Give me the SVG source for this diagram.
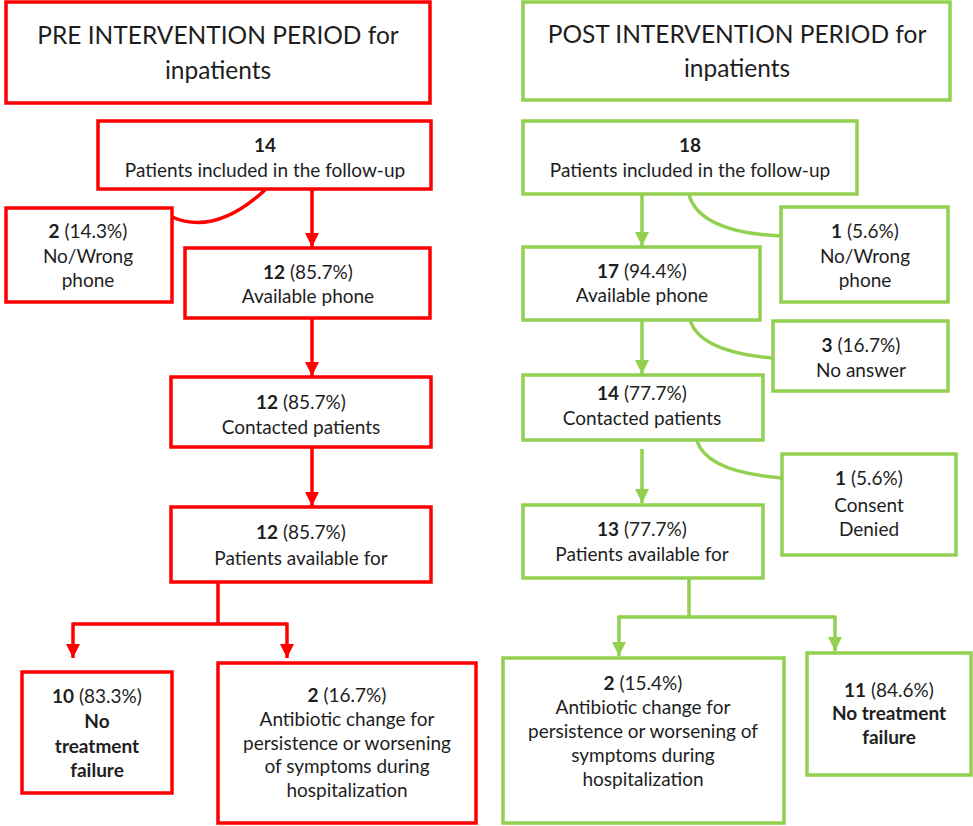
<svg xmlns="http://www.w3.org/2000/svg" width="973" height="826" viewBox="0 0 973 826">
  <style>
    .pre { fill: #fff; stroke: #ff0000; stroke-width: 3.5; }
    .post { fill: #fff; stroke: #92d050; stroke-width: 3.5; }
    .lpre { fill: none; stroke: #ff0000; stroke-width: 3.5; }
    .lpost { fill: none; stroke: #92d050; stroke-width: 3.5; }
    text { font-family: Lato, "Liberation Sans", sans-serif; font-size: 19px; fill: #1e1e1e; text-anchor: middle; }
    .title { font-size: 24.5px; }
    .b { font-weight: bold; }
  </style>
  <defs>
    <marker id="arrRed" viewBox="0 0 10 10" refX="10" refY="5" markerWidth="4" markerHeight="4" markerUnits="strokeWidth" orient="auto">
      <path d="M0,0 L10,5 L0,10 Z" fill="#ff0000"/>
    </marker>
    <marker id="arrGreen" viewBox="0 0 10 10" refX="10" refY="5" markerWidth="4" markerHeight="4" markerUnits="strokeWidth" orient="auto">
      <path d="M0,0 L10,5 L0,10 Z" fill="#92d050"/>
    </marker>
    <clipPath id="clipInc"><rect x="98" y="121" width="333" height="58"/></clipPath>
  </defs>

  <!-- connectors -->
  <g id="connectors">
    <!-- pre intervention -->
    <path class="lpre" d="M265,190 Q215,236 172,217"/>
    <line class="lpre" x1="312" y1="189" x2="312" y2="247" marker-end="url(#arrRed)"/>
    <line class="lpre" x1="312" y1="318" x2="312" y2="376" marker-end="url(#arrRed)"/>
    <line class="lpre" x1="312" y1="447" x2="312" y2="506" marker-end="url(#arrRed)"/>
    <polyline class="lpre" points="218,582 218,624 73,624"/>
    <line class="lpre" x1="218" y1="624" x2="287" y2="624"/>
    <line class="lpre" x1="73" y1="622.5" x2="73" y2="658" marker-end="url(#arrRed)"/>
    <line class="lpre" x1="287" y1="622.5" x2="287" y2="658" marker-end="url(#arrRed)"/>
    <!-- post intervention -->
    <line class="lpost" x1="642" y1="194" x2="642" y2="246" marker-end="url(#arrGreen)"/>
    <path class="lpost" d="M689,195 Q700,232 780,236"/>
    <line class="lpost" x1="642" y1="320" x2="642" y2="374" marker-end="url(#arrGreen)"/>
    <path class="lpost" d="M690,320 Q700,352 773,358"/>
    <line class="lpost" x1="642" y1="449" x2="642" y2="503" marker-end="url(#arrGreen)"/>
    <path class="lpost" d="M697,441 Q707,472 782,478"/>
    <polyline class="lpost" points="689,578 689,617 619,617"/>
    <line class="lpost" x1="689" y1="617" x2="835" y2="617"/>
    <line class="lpost" x1="619" y1="615.5" x2="619" y2="656" marker-end="url(#arrGreen)"/>
    <line class="lpost" x1="835" y1="615.5" x2="835" y2="651" marker-end="url(#arrGreen)"/>
  </g>

  <!-- pre intervention column -->
  <g id="pre-title">
    <rect class="pre" x="6" y="2" width="424" height="101"/>
    <text class="title" x="218" y="44">PRE INTERVENTION PERIOD for</text>
    <text class="title" x="218" y="79">inpatients</text>
  </g>
  <g id="pre-included">
    <rect class="pre" x="98" y="121" width="333" height="68"/>
    <text x="265" y="152" class="b">14</text>
    <text x="265" y="177" clip-path="url(#clipInc)">Patients included in the follow-up</text>
  </g>
  <g id="pre-nophone">
    <rect class="pre" x="6" y="208" width="166" height="94"/>
    <text x="88" y="238"><tspan class="b">2</tspan> (14.3%)</text>
    <text x="88" y="263">No/Wrong</text>
    <text x="88" y="287">phone</text>
  </g>
  <g id="pre-phone">
    <rect class="pre" x="185" y="248" width="245" height="70"/>
    <text x="308" y="279"><tspan class="b">12</tspan> (85.7%)</text>
    <text x="308" y="303">Available phone</text>
  </g>
  <g id="pre-contacted">
    <rect class="pre" x="171" y="377" width="260" height="70"/>
    <text x="301" y="409"><tspan class="b">12</tspan> (85.7%)</text>
    <text x="301" y="434">Contacted patients</text>
  </g>
  <g id="pre-available">
    <rect class="pre" x="171" y="507" width="260" height="75"/>
    <text x="301" y="539"><tspan class="b">12</tspan> (85.7%)</text>
    <text x="301" y="565">Patients available for</text>
  </g>
  <g id="pre-nofailure">
    <rect class="pre" x="22" y="672" width="150" height="121"/>
    <text x="97" y="703"><tspan class="b">10</tspan> (83.3%)</text>
    <text x="97" y="728" class="b">No</text>
    <text x="97" y="753" class="b">treatment</text>
    <text x="97" y="777" class="b">failure</text>
  </g>
  <g id="pre-change">
    <rect class="pre" x="218" y="663" width="258" height="160"/>
    <text x="347" y="702"><tspan class="b">2</tspan> (16.7%)</text>
    <text x="347" y="726">Antibiotic change for</text>
    <text x="347" y="750">persistence or worsening</text>
    <text x="347" y="773">of symptoms during</text>
    <text x="347" y="797">hospitalization</text>
  </g>

  <!-- post intervention column -->
  <g id="post-title">
    <rect class="post" x="523" y="2" width="427" height="98"/>
    <text class="title" x="737" y="43">POST INTERVENTION PERIOD for</text>
    <text class="title" x="737" y="77">inpatients</text>
  </g>
  <g id="post-included">
    <rect class="post" x="523" y="121" width="334" height="73"/>
    <text x="690" y="152" class="b">18</text>
    <text x="690" y="177">Patients included in the follow-up</text>
  </g>
  <g id="post-nophone">
    <rect class="post" x="781" y="207" width="167" height="95"/>
    <text x="865" y="238"><tspan class="b">1</tspan> (5.6%)</text>
    <text x="865" y="263">No/Wrong</text>
    <text x="865" y="287">phone</text>
  </g>
  <g id="post-phone">
    <rect class="post" x="523" y="247" width="237" height="73"/>
    <text x="642" y="278"><tspan class="b">17</tspan> (94.4%)</text>
    <text x="642" y="302">Available phone</text>
  </g>
  <g id="post-noanswer">
    <rect class="post" x="773" y="321" width="175" height="70"/>
    <text x="861" y="352"><tspan class="b">3</tspan> (16.7%)</text>
    <text x="861" y="377">No answer</text>
  </g>
  <g id="post-contacted">
    <rect class="post" x="523" y="375" width="240" height="65"/>
    <text x="642" y="400"><tspan class="b">14</tspan> (77.7%)</text>
    <text x="642" y="425">Contacted patients</text>
  </g>
  <g id="post-consent">
    <rect class="post" x="782" y="454" width="174" height="101"/>
    <text x="869" y="485"><tspan class="b">1</tspan> (5.6%)</text>
    <text x="869" y="512">Consent</text>
    <text x="869" y="536">Denied</text>
  </g>
  <g id="post-available">
    <rect class="post" x="523" y="505" width="240" height="73"/>
    <text x="642" y="536"><tspan class="b">13</tspan> (77.7%)</text>
    <text x="642" y="561">Patients available for</text>
  </g>
  <g id="post-change">
    <rect class="post" x="503" y="658" width="281" height="165"/>
    <text x="643" y="690"><tspan class="b">2</tspan> (15.4%)</text>
    <text x="643" y="714">Antibiotic change for</text>
    <text x="643" y="738">persistence or worsening of</text>
    <text x="643" y="762">symptoms during</text>
    <text x="643" y="786">hospitalization</text>
  </g>
  <g id="post-nofailure">
    <rect class="post" x="807" y="653" width="164" height="122"/>
    <text x="889" y="697"><tspan class="b">11</tspan> (84.6%)</text>
    <text x="889" y="720" class="b">No treatment</text>
    <text x="889" y="744" class="b">failure</text>
  </g>
</svg>
